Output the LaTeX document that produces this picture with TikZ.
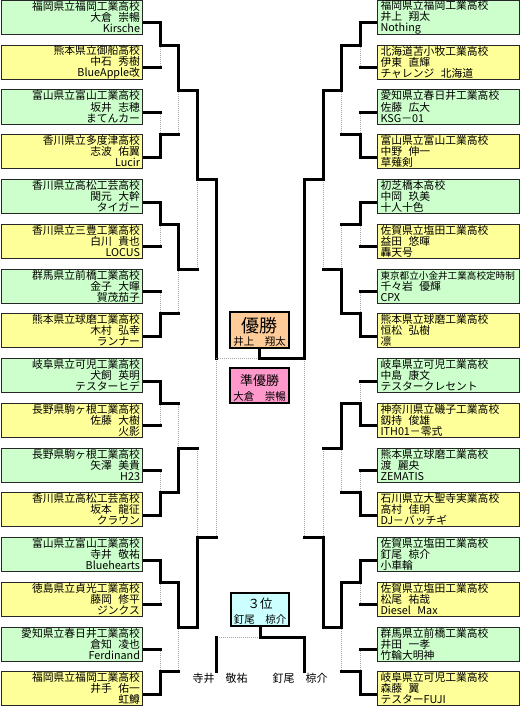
\documentclass[tikz,border=0pt]{standalone}
\usepackage{fontspec}
\setmainfont{Noto Sans CJK JP}
\usetikzlibrary{calc}
\definecolor{tgreen}{HTML}{CCFFCC}
\definecolor{tyellow}{HTML}{FFFF99}
\definecolor{tgold}{HTML}{FFCC99}
\definecolor{tpink}{HTML}{FF99CC}
\definecolor{tcyan}{HTML}{CCFFFF}
\pgfdeclarelayer{bg}
\pgfsetlayers{bg,main}
\newcommand\gp{\hspace{0.6em}}
\newcommand\ls{\rule[-1.5pt]{0pt}{11pt}}
\newcommand\tri[3]{\ls#1\\\ls#2\\\ls#3}
\newcommand\mwa[4]{%
  \coordinate (#4m) at ($(#1)!0.5!(#2)$);
  \coordinate (#4) at (#4m -| #3);
  \draw[lose] (#4) -- (#2 -| #3);
  \draw[win] (#1) -| (#4);
  \draw[win] (#2) -- (#2 -| #3);
}
\newcommand\mwb[4]{%
  \coordinate (#4m) at ($(#1)!0.5!(#2)$);
  \coordinate (#4) at (#4m -| #3);
  \draw[lose] (#4) -- (#1 -| #3);
  \draw[win] (#2) -| (#4);
  \draw[win] (#1) -- (#1 -| #3);
}
\tikzset{
  tbox/.style={draw=black!85, line width=1pt, rectangle, minimum height=34pt,
    inner sep=0pt, font=\fontsize{10.8}{11}\selectfont},
  lbox/.style={tbox, minimum width=141pt, text width=137pt, align=right},
  rbox/.style={tbox, minimum width=142pt, text width=135pt, align=left},
  gb/.style={fill=tgreen},
  yb/.style={fill=tyellow},
  medal/.style={draw=black, line width=1.5pt, minimum width=59pt, inner sep=0pt},
  mtext/.style={inner sep=0pt, font=\fontsize{10.5}{11}\selectfont},
  win/.style={line width=3pt, line cap=rect, line join=miter, black},
  lose/.style={line width=0.8pt, gray!70, dash pattern=on 1pt off 1pt},
}
\begin{document}
\begin{tikzpicture}[x=1pt,y=-1pt]
\path[use as bounding box] (0,0) rectangle (520,706);

% left boxes
\node[lbox,gb] (L1) at (71.5,17.5) {\tri{福岡県立福岡工業高校}{大倉\gp 崇暢}{Kirsche}};
\node[lbox,yb] (L2) at (71.5,62.25) {\tri{熊本県立御船高校}{中石\gp 秀樹}{BlueApple改}};
\node[lbox,gb] (L3) at (71.5,107) {\tri{富山県立富山工業高校}{坂井\gp 志穂}{まてんカー}};
\node[lbox,yb] (L4) at (71.5,151.75) {\tri{香川県立多度津高校}{志波\gp 佑翼}{Lucir}};
\node[lbox,gb] (L5) at (71.5,196.5) {\tri{香川県立高松工芸高校}{関元\gp 大幹}{タイガー}};
\node[lbox,yb] (L6) at (71.5,241.25) {\tri{香川県立三豊工業高校}{白川\gp 貴也}{LOCUS}};
\node[lbox,gb] (L7) at (71.5,286) {\tri{群馬県立前橋工業高校}{金子\gp 大暉}{賀茂茄子}};
\node[lbox,yb] (L8) at (71.5,330.75) {\tri{熊本県立球磨工業高校}{木村\gp 弘幸}{ランナー}};
\node[lbox,gb] (L9) at (71.5,375.5) {\tri{岐阜県立可児工業高校}{犬飼\gp 英明}{テスターヒデ}};
\node[lbox,yb] (L10) at (71.5,420.25) {\tri{長野県駒ヶ根工業高校}{佐藤\gp 大樹}{火影}};
\node[lbox,gb] (L11) at (71.5,465) {\tri{長野県駒ヶ根工業高校}{矢澤\gp 美貴}{H23}};
\node[lbox,yb] (L12) at (71.5,509.75) {\tri{香川県立高松工芸高校}{坂本\gp 龍征}{クラウン}};
\node[lbox,gb] (L13) at (71.5,554.5) {\tri{富山県立富山工業高校}{寺井\gp 敬祐}{Bluehearts}};
\node[lbox,yb] (L14) at (71.5,599.25) {\tri{徳島県立貞光工業高校}{藤岡\gp 修平}{ジンクス}};
\node[lbox,gb] (L15) at (71.5,644) {\tri{愛知県立春日井工業高校}{倉知\gp 凌也}{Ferdinand}};
\node[lbox,yb] (L16) at (71.5,688.75) {\tri{福岡県立福岡工業高校}{井手\gp 佑一}{虹鱒}};

% right boxes
\node[rbox,gb] (R1) at (448,17.5) {\tri{福岡県立福岡工業高校}{井上\gp 翔太}{Nothing}};
\node[rbox,yb] (R2) at (448,62.25) {\tri{北海道苫小牧工業高校}{伊東\gp 直輝}{チャレンジ\gp 北海道}};
\node[rbox,gb] (R3) at (448,107) {\tri{愛知県立春日井工業高校}{佐藤\gp 広大}{KSG－01}};
\node[rbox,yb] (R4) at (448,151.75) {\tri{富山県立富山工業高校}{中野\gp 伸一}{草薙剣}};
\node[rbox,gb] (R5) at (448,196.5) {\tri{初芝橋本高校}{中岡\gp 玖美}{十人十色}};
\node[rbox,yb] (R6) at (448,241.25) {\tri{佐賀県立塩田工業高校}{益田\gp 悠暉}{轟天号}};
\node[rbox,gb] (R7) at (448,286) {\tri{{\fontsize{9.6}{11}\selectfont 東京都立小金井工業高校定時制}}{千々岩\gp 優輝}{CPX}};
\node[rbox,yb] (R8) at (448,330.75) {\tri{熊本県立球磨工業高校}{恒松\gp 弘樹}{凛}};
\node[rbox,gb] (R9) at (448,375.5) {\tri{岐阜県立可児工業高校}{中島\gp 康文}{テスタークレセント}};
\node[rbox,yb] (R10) at (448,420.25) {\tri{神奈川県立磯子工業高校}{釼持\gp 俊雄}{ITH01－零式}};
\node[rbox,gb] (R11) at (448,465) {\tri{熊本県立球磨工業高校}{渡\gp 麗央}{ZEMATIS}};
\node[rbox,yb] (R12) at (448,509.75) {\tri{石川県立大聖寺実業高校}{高村\gp 佳明}{DJ－バッチギ}};
\node[rbox,gb] (R13) at (448,554.5) {\tri{佐賀県立塩田工業高校}{釘尾\gp 椋介}{小車輪}};
\node[rbox,yb] (R14) at (448,599.25) {\tri{佐賀県立塩田工業高校}{松尾\gp 祐哉}{Diesel\gp Max}};
\node[rbox,gb] (R15) at (448,644) {\tri{群馬県立前橋工業高校}{井田\gp 一孝}{竹輪大明神}};
\node[rbox,yb] (R16) at (448,688.75) {\tri{岐阜県立可児工業高校}{森藤\gp 翼}{テスターFUJI}};

% medal boxes
\node[medal,fill=tgold,minimum height=36pt] (champ) at (259.5,330) {};
\node[inner sep=0pt,font=\fontsize{18}{18}\selectfont] (champt) at (259.5,325.5) {優勝};
\node[mtext] (champn) at (259.5,341.5) {井上　翔太};
\node[medal,fill=tpink,minimum height=35pt] (runner) at (259.5,385.5) {};
\node[inner sep=0pt,font=\fontsize{13}{13}\selectfont] (runnert) at (259.5,380.8) {準優勝};
\node[mtext] (runnern) at (259.5,396.5) {大倉　崇暢};
\node[medal,fill=tcyan,minimum height=33pt,minimum width=58pt] (third) at (260,609.5) {};
\node[inner sep=0pt,font=\fontsize{12.5}{13}\selectfont] (thirdt) at (260,604) {３位};
\node[mtext] (thirdn) at (260,620) {釘尾　椋介};

% third-place labels
\node[inner sep=1pt,font=\fontsize{11}{12}\selectfont] (n3l) at (220,678) {寺井　敬祐};
\node[inner sep=1pt,font=\fontsize{11}{12}\selectfont] (n3r) at (300,678) {釘尾　椋介};

% entry points
\foreach \i in {1,...,16}{
  \coordinate (la\i) at ([yshift=-5.5pt]L\i.east);
  \coordinate (ra\i) at ([yshift=-5.5pt]R\i.west);
}
\coordinate (xl1) at (160,0);
\coordinate (xl2) at (178.5,0);
\coordinate (xl3) at (197,0);
\coordinate (xl4) at (216,0);
\coordinate (xr1) at (360,0);
\coordinate (xr2) at (341.5,0);
\coordinate (xr3) at (323,0);
\coordinate (xr4) at (304,0);

\begin{pgfonlayer}{bg}
\fill[white] (0,0) rectangle (520,706);
% left bracket
\mwa{la1}{la2}{xl1}{lb1}
\mwb{la3}{la4}{xl1}{lb2}
\mwa{la5}{la6}{xl1}{lb3}
\mwb{la7}{la8}{xl1}{lb4}
\mwa{la9}{la10}{xl1}{lb5}
\mwb{la11}{la12}{xl1}{lb6}
\mwa{la13}{la14}{xl1}{lb7}
\mwb{la15}{la16}{xl1}{lb8}
\mwa{lb1}{lb2}{xl2}{lc1}
\mwa{lb3}{lb4}{xl2}{lc2}
\mwb{lb5}{lb6}{xl2}{lc3}
\mwa{lb7}{lb8}{xl2}{lc4}
\mwa{lc1}{lc2}{xl3}{ld1}
\mwb{lc3}{lc4}{xl3}{ld2}
\mwa{ld1}{ld2}{xl4}{lf}
% right bracket
\mwa{ra1}{ra2}{xr1}{rb1}
\mwb{ra3}{ra4}{xr1}{rb2}
\mwa{ra5}{ra6}{xr1}{rb3}
\mwb{ra7}{ra8}{xr1}{rb4}
\mwb{ra9}{ra10}{xr1}{rb5}
\mwb{ra11}{ra12}{xr1}{rb6}
\mwa{ra13}{ra14}{xr1}{rb7}
\mwb{ra15}{ra16}{xr1}{rb8}
\mwa{rb1}{rb2}{xr2}{rc1}
\mwb{rb3}{rb4}{xr2}{rc2}
\mwa{rb5}{rb6}{xr2}{rc3}
\mwa{rb7}{rb8}{xr2}{rc4}
\mwa{rc1}{rc2}{xr3}{rd1}
\mwb{rc3}{rc4}{xr3}{rd2}
\mwa{rd1}{rd2}{xr4}{rf}
% final
\coordinate (fc) at (champ.south |- lf);
\draw[lose] (lf) -- (fc);
\draw[win] (rf) -| (champ.south);
% third place
\coordinate (tc) at ([yshift=-11pt]third.south);
\coordinate (tl) at (tc -| xl4);
\coordinate (tr) at (tc -| xr4);
\draw[lose] (tc) -- (tl);
\draw[win] (third.south) |- (tr) -- (tr |- n3r.north);
\draw[win] (tl) -- (tl |- n3l.north);
\end{pgfonlayer}
\end{tikzpicture}
\end{document}
